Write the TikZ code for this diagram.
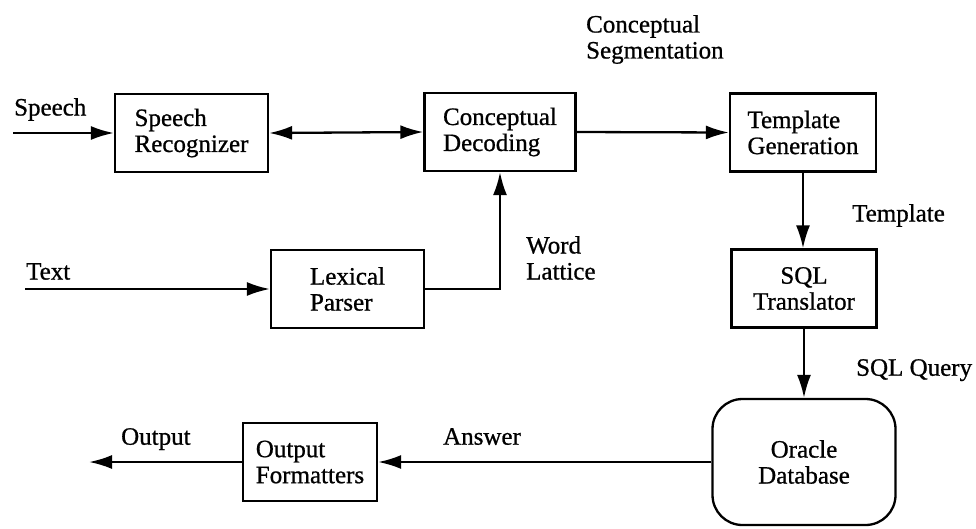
\documentclass[tikz,border=0pt]{standalone}
\usepackage{fontspec}
\setmainfont{Liberation Serif}[FakeBold=0.8]
\usetikzlibrary{arrows.meta}

\begin{document}
\begin{tikzpicture}[x=1pt,y=-1pt,
  line width=2.3pt,
  >={Latex[length=23pt,width=14pt]},
  every node/.style={font=\fontsize{25}{26}\selectfont},
  box/.style={draw, line width=2.3pt, minimum width=#1, minimum height=78pt,
              inner sep=0pt, align=left},
  lbl/.style={anchor=north west, inner sep=0pt, align=left}]
\useasboundingbox (0,0) rectangle (976,528);
\fill[white] (0,0) rectangle (976,528);

% processing blocks
\node[box=153pt] (sr)  at (191.5,133) {Speech\\Recognizer};
\node[box=151pt] (cd)  at (500,132)   {Conceptual\\Decoding};
\node[box=146pt] (tg)  at (803,132.5) {Template\\Generation};
\node[box=153pt] (lp)  at (347.5,289) {Lexical\\Parser};
\node[box=145pt, align=center] (sql) at (804,288.5) {SQL\\Translator};
\node[box=183pt, minimum height=126pt, rounded corners=30pt, align=center]
      (ora) at (804,462) {Oracle\\Database};
\node[box=134pt] (of)  at (310,462)   {Output\\Formatters};

% free ends of the input and output lines
\coordinate (speechin) at (13,133);
\coordinate (textin)   at (25,289);
\coordinate (outend)   at (89,462);

% connectors
\draw[->]  (speechin) -- (sr.west);
\draw[<->] (sr.east) -- (cd.west);
\draw[->]  (cd.east) -- (tg.west);
\draw[->]  (textin) -- (lp.west);
\draw[->]  (lp.east) -| (cd.south);
\draw[->]  (tg.south) -- (tg.south |- sql.north);
\draw[->]  (sql.south) -- (ora.north);
\draw[->]  (ora.west) -- (of.east);
\draw[->]  (of.west) -- (outend);

% connector labels
\node[lbl] (lspeech) at (13,97)   {Speech};
\node[lbl] (ltext)   at (25,262)  {Text};
\node[lbl] (lseg)    at (585,14)  {Conceptual\\Segmentation};
\node[lbl] (lword)   at (525,235) {Word\\Lattice};
\node[lbl] (ltempl)  at (851,203) {Template};
\node[lbl] (lquery)  at (855,358) {SQL Query};
\node[lbl] (lans)    at (442,427) {Answer};
\node[lbl] (lout)    at (120,427) {Output};
\end{tikzpicture}
\end{document}
